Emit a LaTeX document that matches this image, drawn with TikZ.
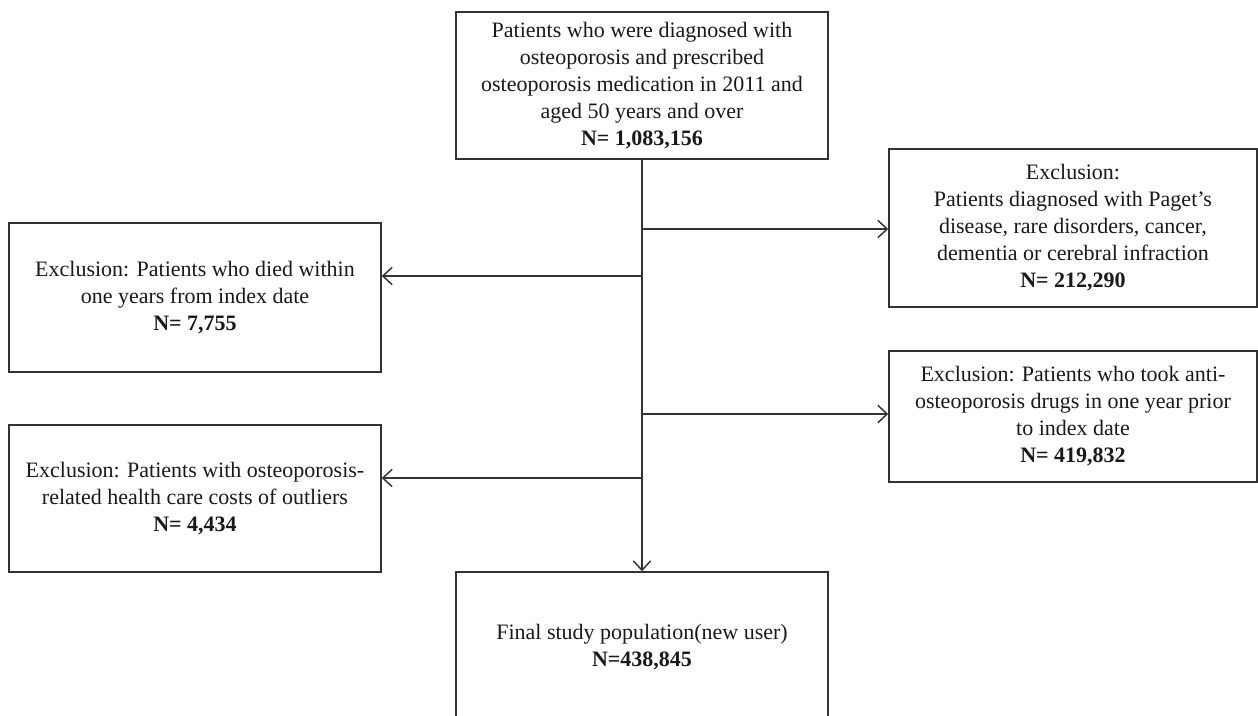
\documentclass[tikz,border=0pt]{standalone}
\usepackage{fontspec}
\setmainfont{Liberation Serif}
\usetikzlibrary{arrows.meta}
\definecolor{linec}{HTML}{333333}
\begin{document}
\begin{tikzpicture}[x=0.75pt,y=-0.75pt,
  box/.style={draw=linec, line width=1.1pt, rectangle, align=center, inner sep=0pt,
    font=\fontsize{16.5}{20.25}\selectfont, text=black!90},
  wbox/.style={box, minimum width=279pt},
  nbox/.style={box, minimum width=276pt},
  conn/.style={draw=linec, line width=1.1pt},
  arr/.style={conn, -{Straight Barb[length=7pt,width=13pt,line width=1.1pt]}}]
\useasboundingbox (0,0) rectangle (1258,715);
\node[wbox, minimum height=110.25pt] (top) at (642,85.5)
  {Patients who were diagnosed with\\ osteoporosis and prescribed\\ osteoporosis medication in 2011 and\\ aged 50 years and over\\ \textbf{N= 1,083,156}};
\node[nbox, minimum height=118.5pt] (r1) at (1073,228)
  {Exclusion:\\ Patients diagnosed with Paget's\\ disease, rare disorders, cancer,\\ dementia or cerebral infraction\\ \textbf{N= 212,290}};
\node[wbox, minimum height=111.75pt] (l1) at (195,297.5)
  {Exclusion: Patients who died within\\ one years from index date\\ \textbf{N= 7,755}};
\node[nbox, minimum height=98.25pt] (r2) at (1073,416.5)
  {Exclusion: Patients who took anti-\\ osteoporosis drugs in one year prior\\ to index date\\ \textbf{N= 419,832}};
\node[wbox, minimum height=110.25pt] (l2) at (195,498.5)
  {Exclusion: Patients with osteoporosis-\\ related health care costs of outliers\\ \textbf{N= 4,434}};
\node[wbox, minimum height=112.5pt] (fin) at (642,647)
  {Final study population(new user)\\ \textbf{N=438,845}};
\coordinate (b1) at (642,229);
\coordinate (b2) at (642,276);
\coordinate (b3) at (642,414);
\coordinate (b4) at (642,478);
\draw[arr] (top.south) -- (fin.north);
\draw[arr] (b1) -- (r1.west |- b1);
\draw[arr] (b2) -- (l1.east |- b2);
\draw[arr] (b3) -- (r2.west |- b3);
\draw[arr] (b4) -- (l2.east |- b4);
\end{tikzpicture}
\end{document}
